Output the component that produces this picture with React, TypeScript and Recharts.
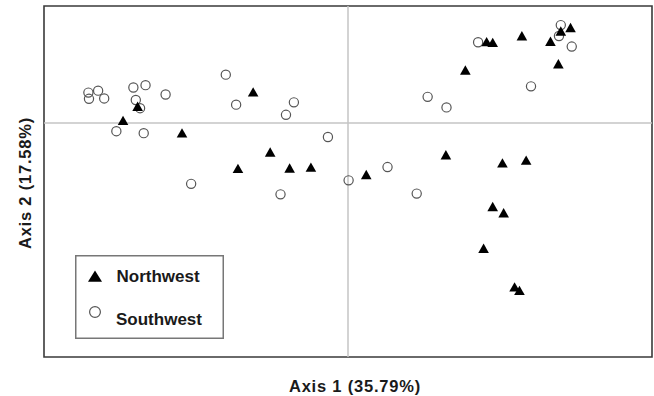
import React from 'react';
import { ScatterChart, Scatter, XAxis, YAxis, ReferenceLine, ReferenceArea, Legend } from 'recharts';

const seriesNames = ['Northwest', 'Southwest'];
const axisTitles = ['Axis 1 (35.79%)', 'Axis 2 (17.58%)'];

const northwestX = [
  -0.156, -0.346, -0.370, -0.273, -0.128, -0.181, -0.096, -0.061,
  0.366, 0.350, 0.333, 0.286, 0.228, 0.238, 0.346, 0.193,
  0.161, 0.254, 0.293, 0.030, 0.238, 0.256, 0.223, 0.274, 0.282,
];
const northwestY = [
  0.079, 0.042, 0.006, -0.026, -0.075, -0.117, -0.116, -0.114,
  0.244, 0.235, 0.209, 0.223, 0.208, 0.206, 0.151, 0.135,
  -0.082, -0.103, -0.096, -0.133, -0.215, -0.231, -0.322, -0.421, -0.430,
];

const southwestX = [
  -0.427, -0.411, -0.426, -0.401, -0.353, -0.333, -0.349, -0.342, -0.300, -0.201,
  -0.184, -0.089, -0.102, -0.381, -0.336, -0.033, -0.258, -0.111, 0.001,
  0.350, 0.347, 0.368, 0.214, 0.301, 0.131, 0.162, 0.065, 0.113,
];
const southwestY = [
  0.078, 0.083, 0.062, 0.063, 0.091, 0.097, 0.059, 0.038, 0.073, 0.124,
  0.047, 0.053, 0.021, -0.021, -0.026, -0.036, -0.156, -0.183, -0.147,
  0.251, 0.223, 0.196, 0.207, 0.094, 0.067, 0.040, -0.113, -0.181,
];

const northwest = northwestX.map((x, i) => ({ x, y: northwestY[i] }));
const southwest = southwestX.map((x, i) => ({ x, y: southwestY[i] }));

const FONT = '"Liberation Sans", Arial, sans-serif';

const Triangle = (props: any) => {
  const { cx, cy } = props;
  return (
    <polygon
      points={`${cx},${cy - 5} ${cx - 5.3},${cy + 4.4} ${cx + 5.3},${cy + 4.4}`}
      fill="#000"
    />
  );
};

const Ring = (props: any) => (
  <circle cx={props.cx} cy={props.cy} r={4.6} fill="none" stroke="#555" strokeWidth={1.2} />
);

const XTitle = () => (
  <text
    x={355}
    y={391.5}
    textAnchor="middle"
    fontFamily={FONT}
    fontWeight="bold"
    fontSize={16.5}
    letterSpacing={0.8}
    fill="#1a1a1a"
  >
    {axisTitles[0]}
  </text>
);

const YTitle = () => (
  <text
    x={31}
    y={183}
    transform="rotate(-90, 31, 183)"
    textAnchor="middle"
    fontFamily={FONT}
    fontWeight="bold"
    fontSize={16.5}
    letterSpacing={0.8}
    fill="#1a1a1a"
  >
    {axisTitles[1]}
  </text>
);

const LegendBox = () => (
  <svg width={149} height={84} style={{ display: 'block' }}>
    <rect x={0.75} y={0.75} width={147.5} height={82.5} fill="#fff" stroke="#777" strokeWidth={1.5} />
    <polygon points="20,15.5 13,26.8 27,26.8" fill="#000" />
    <text x={41.5} y={27.3} fontFamily={FONT} fontWeight="bold" fontSize={17} fill="#1a1a1a">
      {seriesNames[0]}
    </text>
    <circle cx={20} cy={57} r={5.4} fill="none" stroke="#555" strokeWidth={1.2} />
    <text x={41} y={70} fontFamily={FONT} fontWeight="bold" fontSize={17} fill="#1a1a1a">
      {seriesNames[1]}
    </text>
  </svg>
);

export default function App() {
  return (
    <div style={{ position: 'absolute', left: 0, top: 0, background: '#fff' }}>
      <ScatterChart width={654} height={396} margin={{ top: 6, right: 2, bottom: 0, left: 0 }}>
        <XAxis
          dataKey="x"
          type="number"
          domain={[-0.5, 0.5]}
          tick={false}
          tickLine={false}
          axisLine={false}
          height={39}
          label={XTitle}
        />
        <YAxis
          dataKey="y"
          type="number"
          domain={[-0.6, 0.3]}
          tick={false}
          tickLine={false}
          axisLine={false}
          width={44}
          label={YTitle}
        />
        <ReferenceLine x={0} stroke="#c4c4c4" strokeWidth={1.5} />
        <ReferenceLine y={0} stroke="#c4c4c4" strokeWidth={1.5} />
        <ReferenceArea
          x1={-0.5}
          x2={0.5}
          y1={-0.6}
          y2={0.3}
          fill="none"
          fillOpacity={0}
          stroke="#3a3a3a"
          strokeWidth={1.6}
        />
        <Scatter name={seriesNames[1]} data={southwest} shape={Ring} isAnimationActive={false} />
        <Scatter name={seriesNames[0]} data={northwest} shape={Triangle} isAnimationActive={false} />
        <Legend
          verticalAlign="middle"
          layout="horizontal"
          align="center"
          wrapperStyle={{ left: 75, top: 255, width: 149, height: 84 }}
          content={LegendBox}
        />
      </ScatterChart>
    </div>
  );
}
